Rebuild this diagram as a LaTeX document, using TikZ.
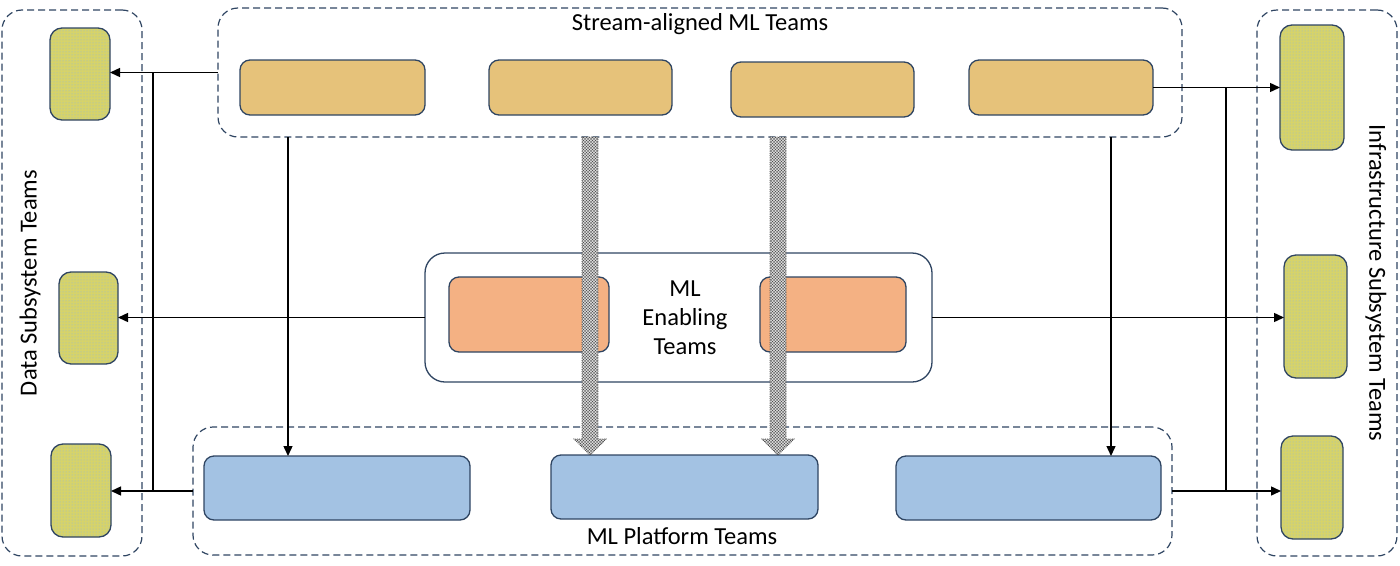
\documentclass[tikz,border=0pt]{standalone}
\usepackage{fontspec}
\setmainfont{Carlito}
\usetikzlibrary{arrows.meta,calc,patterns}
\definecolor{bord}{HTML}{2F4562}
\definecolor{platc}{HTML}{A3C2E3}
\definecolor{enabc}{HTML}{F4B183}
\definecolor{streamc}{HTML}{E6C27A}
\definecolor{sidec}{HTML}{D6D36A}
\definecolor{dotc}{HTML}{8FB8E0}
\tikzset{
  cont/.style={draw=bord, line width=1.2pt, dash pattern=on 7pt off 4pt, rounded corners=20pt, anchor=north west, inner sep=0pt, outer sep=0pt},
  encont/.style={draw=bord, line width=1.3pt, rounded corners=20pt, anchor=north west, inner sep=0pt, outer sep=0pt},
  bx/.style={draw=bord, line width=1.3pt, rounded corners=10pt, anchor=north west, inner sep=0pt, outer sep=0pt},
  streambox/.style={bx, fill=streamc},
  platbox/.style={bx, fill=platc},
  enabbox/.style={bx, fill=enabc},
  sidebox/.style={bx, rounded corners=12pt, preaction={fill=sidec}, pattern=dots, pattern color=dotc},
  arr/.style={draw=black, line width=1.4pt, -{Triangle[length=10pt,width=9pt]}},
  ln/.style={draw=black, line width=1.4pt},
  hatch/.style={preaction={fill=gray!35}, pattern=crosshatch, pattern color=black!75, draw=black!70, line width=0.8pt, densely dotted},
  lbl/.style={font=\fontsize{24.5}{29}\selectfont, text=black, inner sep=0pt}
}
\begin{document}
\begin{tikzpicture}[x=1pt,y=-1pt]
\useasboundingbox (0,0) rectangle (1400,565);
% containers
\node[cont, minimum width=140pt, minimum height=546pt] (L) at (2,10) {};
\node[cont, minimum width=140pt, minimum height=546pt] (R) at (1257,10) {};
\node[cont, minimum width=964pt, minimum height=129pt] (T) at (218,8) {};
\node[cont, minimum width=979pt, minimum height=128pt] (P) at (193,427) {};
\node[encont, fill=white, minimum width=507pt, minimum height=129pt] (E) at (425,253) {};
% side boxes
\node[sidebox, minimum width=60pt, minimum height=92pt] (d1) at (50,28) {};
\node[sidebox, minimum width=59pt, minimum height=92pt] (d2) at (59,272) {};
\node[sidebox, minimum width=60pt, minimum height=93pt] (d3) at (51,444) {};
\node[sidebox, minimum width=64pt, minimum height=125pt] (r1) at (1280,25) {};
\node[sidebox, minimum width=63pt, minimum height=123pt] (r2) at (1284,255) {};
\node[sidebox, minimum width=62pt, minimum height=103pt] (r3) at (1281,436) {};
% stream boxes
\node[streambox, minimum width=185pt, minimum height=55pt] (b1) at (240,60) {};
\node[streambox, minimum width=183pt, minimum height=55pt] (b2) at (489,60) {};
\node[streambox, minimum width=183pt, minimum height=55pt] (b3) at (731,62) {};
\node[streambox, minimum width=184pt, minimum height=55pt] (b4) at (969,60) {};
% enabling boxes
\node[enabbox, minimum width=160pt, minimum height=75pt] (e1) at (449,277) {};
\node[enabbox, minimum width=146pt, minimum height=75pt] (e2) at (760,277) {};
% platform boxes
\node[platbox, minimum width=266pt, minimum height=64pt] (p1) at (204,456) {};
\node[platbox, minimum width=267pt, minimum height=64pt] (p2) at (551,455) {};
\node[platbox, minimum width=265pt, minimum height=64pt] (p3) at (896,456) {};
% labels
\node[lbl] (tT) at (700,24) {Stream-aligned ML Teams};
\node[lbl] (tP) at (682,536) {ML Platform Teams};
\node[lbl, align=center] (tE) at (685,318) {ML\\Enabling\\Teams};
\node[lbl, rotate=90] (tL) at (30,283) {Data Subsystem Teams};
\node[lbl, rotate=-90] (tR) at (1376,283) {Infrastructure Subsystem Teams};
% helper coordinates
\coordinate (vl) at (153,0);
\coordinate (vr) at (1226,0);
\coordinate (c1) at (288,0);
\coordinate (c2) at (1111,0);
% connectors left
\draw[arr] (T.west) -- (d1.east |- T.west);
\draw[ln] (vl |- T.west) -- (vl |- P.west);
\draw[arr] (E.west) -- (d2.east |- E.west);
\draw[arr] (P.west) -- (d3.east |- P.west);
% connectors right
\draw[arr] (b4.east) -- (r1.west |- b4.east);
\draw[ln] (vr |- b4.east) -- (vr |- P.east);
\draw[arr] (E.east) -- (r2.west |- E.east);
\draw[arr] (P.east) -- (r3.west |- P.east);
% vertical
\draw[arr] (c1 |- T.south) -- (c1 |- p1.north);
\draw[arr] (c2 |- T.south) -- (c2 |- p3.north);
% hatched arrows
\coordinate (h1a) at (590,0 |- T.south);
\coordinate (h1b) at (h1a |- p2.north);
\coordinate (h2a) at (778,0 |- T.south);
\coordinate (h2b) at (h2a |- p2.north);
\foreach \s/\e in {h1a/h1b, h2a/h2b}{
  \draw[hatch] ($(\s)+(-8,0)$) -- ($(\e)+(-8,-16)$) -- ($(\e)+(-16,-16)$) -- (\e) -- ($(\e)+(16,-16)$) -- ($(\e)+(8,-16)$) -- ($(\s)+(8,0)$) -- cycle;
}
\end{tikzpicture}
\end{document}
